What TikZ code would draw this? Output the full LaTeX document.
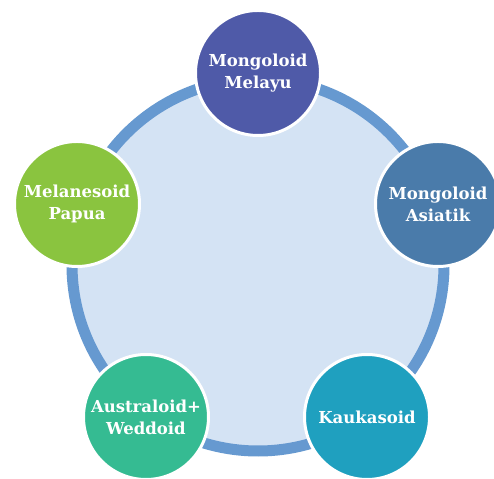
\documentclass[tikz,border=0pt]{standalone}
\usepackage{fontspec}
\setmainfont{DejaVu Serif}
\definecolor{ringline}{HTML}{6699D0}
\definecolor{ringfill}{HTML}{D4E3F4}
\definecolor{melayu}{HTML}{4F5AA8}
\definecolor{asiatik}{HTML}{4A7BAA}
\definecolor{kaukasoid}{HTML}{1FA0BF}
\definecolor{australoid}{HTML}{35BB92}
\definecolor{melanesoid}{HTML}{8AC43F}
\begin{document}
\begin{tikzpicture}[x=1pt, y=1pt,
    race/.style = { circle, draw=white, line width=3pt, minimum size=125pt,
                    inner sep=0pt, text=white, align=center,
                    font=\bfseries\fontsize{16.5}{22}\selectfont }
    ]
\useasboundingbox (0,0) rectangle (494,478);
\node[circle, fill=ringfill, draw=ringline, line width=11pt, minimum size=372pt] (C) at (258,213) {};
%
\node[race, fill=melayu] (MM) at (258,405) {Mongoloid\\Melayu};
\node[race, fill=asiatik] (MA) at (438,274) {Mongoloid\\Asiatik};
\node[race, fill=kaukasoid] (K) at (367,61) {Kaukasoid};
\node[race, fill=australoid] (AW) at (146,61) {Australoid+\\Weddoid};
\node[race, fill=melanesoid] (MP) at (77,274) {Melanesoid\\Papua};
\end{tikzpicture}
\end{document}
